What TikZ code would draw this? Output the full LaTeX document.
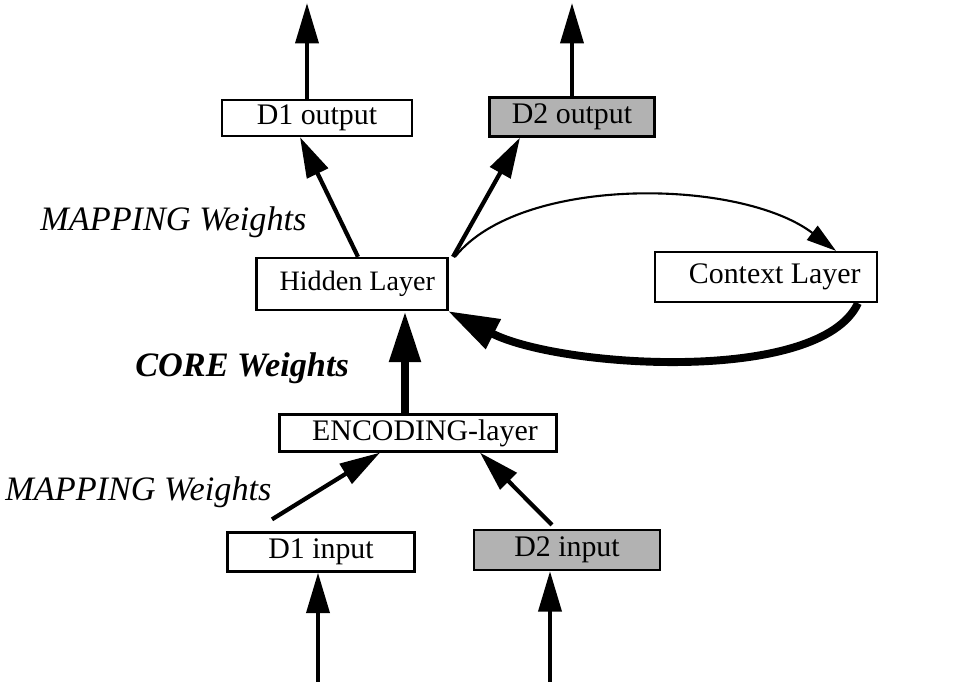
\documentclass[tikz,border=0pt]{standalone}
\usepackage{fontspec}
\setmainfont{Liberation Serif}
\usetikzlibrary{arrows.meta}
\begin{document}
\begin{tikzpicture}[x=0.02cm,y=-0.02cm,
  layer/.style={draw,line width=1.3pt,inner sep=0pt,font=\fontsize{17}{19}\selectfont},
  shaded/.style={layer,fill=black!30},
  lbl/.style={anchor=west,inner sep=0pt,font=\fontsize{19.5}{22}\selectfont\itshape},
  conn/.style={line width=2.4pt,-{Triangle[length=23pt,width=13pt]}},
  thinconn/.style={line width=1.2pt,-{Triangle[length=17pt,width=10pt]}},
  heavy/.style={line width=5pt,-{Triangle[length=29pt,width=17pt]}}]
\useasboundingbox (0,0) rectangle (954,685);

% layers
\node[layer,minimum width=190*0.02cm,minimum height=36*0.02cm] (d1out) at (317,118) {D1 output};
\node[shaded,minimum width=165*0.02cm,minimum height=39*0.02cm] (d2out) at (572,117) {D2 output};
\node[layer,minimum width=191*0.02cm,minimum height=52*0.02cm,font=\fontsize{16}{18}\selectfont] (hidden) at (352,284) {\hspace*{6pt}Hidden Layer};
\node[layer,minimum width=222*0.02cm,minimum height=50*0.02cm] (context) at (766,277) {\hspace*{10pt}Context Layer};
\node[layer,minimum width=277*0.02cm,minimum height=37*0.02cm] (enc) at (418,433) {\hspace*{8pt}ENCODING-layer};
\node[layer,minimum width=187*0.02cm,minimum height=39*0.02cm] (d1in) at (321,552) {D1 input};
\node[shaded,minimum width=186*0.02cm,minimum height=40*0.02cm] (d2in) at (567,550) {D2 input};

% weight labels
\node[lbl] (mapout) at (40,222) {MAPPING Weights};
\node[lbl,font=\fontsize{19.5}{22}\selectfont\bfseries\itshape] (core) at (135,368) {CORE Weights};
\node[lbl] (mapin) at (5,492) {MAPPING Weights};

% free ends of the external arrows
\coordinate (o1) at (307,3);
\coordinate (o2) at (572,3);
\coordinate (i1) at (318,682);
\coordinate (i2) at (550,682);

% outputs
\draw[conn] (d1out.north -| o1) -- (o1);
\draw[conn] (d2out.north) -- (o2);
\draw[conn] (hidden.north -| 358,0) -- (d1out.south -| 300,0);
\draw[conn] (hidden.north -| 453,0) -- (d2out.south -| 520,0);

% recurrent loop through the context layer
\draw[thinconn] (hidden.north -| 455,0) .. controls (520,175) and (740,178) .. (context.north -| 836,0);
\draw[line width=4.5pt,-{Triangle[length=29pt,width=18pt]}] (context.south -| 858,0) .. controls (820,385) and (560,368) .. (hidden.south -| 448,0);

% core weights
\draw[heavy] (enc.north -| 405,0) -- (hidden.south -| 405,0);

% inputs
\draw[conn] (d1in.north -| 272,0) ++(0,-12) -- (enc.south -| 380,0);
\draw[conn] (d2in.north -| 552,0) ++(0,-4) -- (enc.south -| 480,0);
\draw[conn] (i1) -- (d1in.south -| i1);
\draw[conn] (i2) -- (d2in.south -| i2);
\end{tikzpicture}
\end{document}
